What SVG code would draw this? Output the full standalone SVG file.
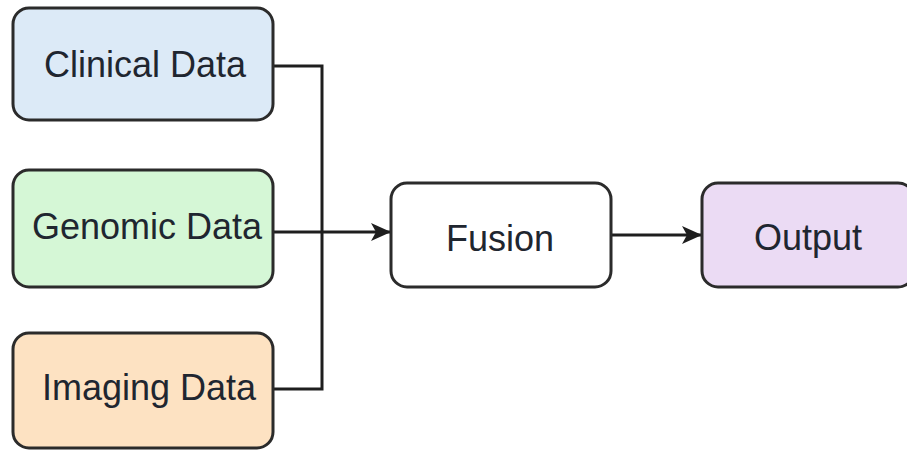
<svg xmlns="http://www.w3.org/2000/svg" width="907" height="450" viewBox="0 0 907 450">
<defs>
<marker id="arr" viewBox="0 0 20 18" refX="19" refY="9" markerWidth="20" markerHeight="18" markerUnits="userSpaceOnUse" orient="auto"><path d="M0,0 L20,9 L0,18 L5,9 z" fill="#1e1e1e"/></marker>
<style>
.box{stroke:#2b2b2b;stroke-width:3}
.lbl{font-family:"Liberation Sans",Arial,sans-serif;font-size:36px;fill:#1f2630;text-anchor:middle}
.ln{fill:none;stroke:#1e1e1e;stroke-width:3}
</style>
</defs>
<rect width="907" height="450" fill="#ffffff"/>
<g id="connectors">
<polyline class="ln" points="273,66 322,66 322,389 273,389"/>
<line class="ln" x1="273" y1="232" x2="390" y2="232" marker-end="url(#arr)"/>
<line class="ln" x1="611" y1="235" x2="701" y2="235" marker-end="url(#arr)"/>
</g>
<g id="clinical">
<rect class="box" x="13" y="8" width="260" height="112" rx="16" fill="#dceaf7"/>
<text class="lbl" x="145" y="77">Clinical Data</text>
</g>
<g id="genomic">
<rect class="box" x="13" y="170" width="260" height="117" rx="16" fill="#d5f7d6"/>
<text class="lbl" x="147" y="239">Genomic Data</text>
</g>
<g id="imaging">
<rect class="box" x="13" y="333" width="260" height="115" rx="16" fill="#fde2c2"/>
<text class="lbl" x="149" y="400">Imaging Data</text>
</g>
<g id="fusion">
<rect class="box" x="391" y="183" width="220" height="104" rx="16" fill="#ffffff"/>
<text class="lbl" x="500" y="251">Fusion</text>
</g>
<g id="output">
<rect class="box" x="702" y="183" width="212" height="104" rx="16" fill="#ebdbf4"/>
<text class="lbl" x="808" y="250">Output</text>
</g>
</svg>
